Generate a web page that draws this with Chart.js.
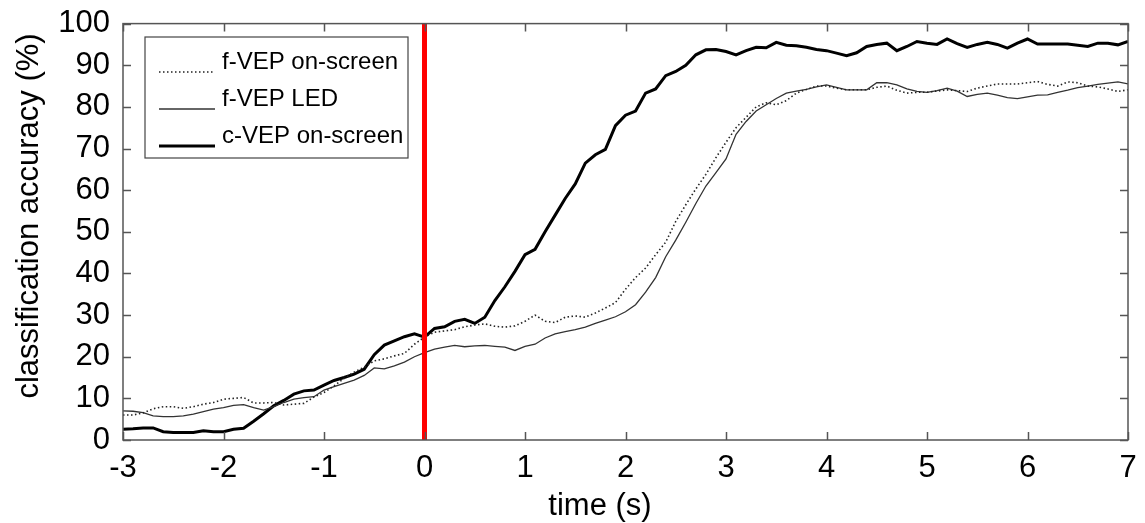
<!DOCTYPE html>
<html>
<head>
<meta charset="utf-8">
<script src="https://cdn.jsdelivr.net/npm/chart.js@4/dist/chart.umd.min.js"></script>
<style>
html, body { margin: 0; padding: 0; background: #fff; }
#wrap { width: 1145px; height: 523px; position: relative; }
</style>
</head>
<body>
<div id="wrap"><canvas id="chart"></canvas></div>
<script>
// time axis, sampled every 0.1 s from -3 to 7
var times = [];
for (var i = 0; i <= 100; i++) times.push(Math.round((-3 + i / 10) * 10) / 10);

var seriesNames = ["f-VEP on-screen", "f-VEP LED", "c-VEP on-screen"];
var xTitle = "time (s)";
var yTitle = "classification accuracy (%)";

// f-VEP on-screen (dotted)
var fvepScreen = [
	6.0, 6.0, 6.5, 7.5, 8.0, 8.0, 7.6, 8.0, 8.6, 9.0,
	9.8, 10.0, 10.2, 8.9, 8.9, 9.0, 8.4, 8.6, 8.8, 10.3,
	11.4, 13.0, 14.8, 16.3, 17.5, 19.0, 19.5, 20.2, 20.8, 23.0,
	24.7, 25.9, 26.2, 26.5, 27.2, 27.6, 27.9, 27.3, 27.1, 27.4,
	28.5, 30.0, 28.5, 28.2, 29.5, 29.8, 29.5, 30.5, 31.7, 33.0,
	36.2, 39.0, 41.3, 44.5, 47.5, 52.5, 56.5, 60.3, 63.8, 67.8,
	71.5, 75.0, 77.5, 80.0, 81.0, 80.5, 81.5, 83.3, 84.2, 85.0,
	85.0, 84.5, 84.1, 84.1, 84.1, 84.7, 85.0, 84.0, 83.3, 83.5,
	83.5, 83.8, 84.1, 83.9, 83.7, 84.5, 85.0, 85.5, 85.5, 85.5,
	85.8, 86.1, 85.4, 85.0, 86.0, 85.8, 85.0, 84.8, 84.3, 83.7,
	84.1
];
// f-VEP LED (thin solid)
var fvepLed = [
	7.0, 6.9, 6.6, 5.8, 5.6, 5.6, 5.8, 6.2, 6.8, 7.4,
	7.8, 8.3, 8.5, 7.8, 7.2, 8.0, 9.0, 9.8, 10.2, 10.4,
	12.0, 12.8, 13.6, 14.4, 15.5, 17.3, 17.1, 17.8, 18.7, 20.0,
	21.0, 21.8, 22.3, 22.7, 22.4, 22.6, 22.7, 22.5, 22.3, 21.5,
	22.5, 23.0, 24.5, 25.5, 26.0, 26.5, 27.1, 28.0, 28.8, 29.6,
	30.8, 32.5, 35.5, 39.0, 44.0, 48.0, 52.3, 56.8, 61.0, 64.2,
	67.5, 73.4, 76.5, 79.0, 80.5, 82.0, 83.3, 83.8, 84.2, 84.8,
	85.3, 84.7, 84.1, 84.1, 84.1, 85.8, 85.8, 85.3, 84.3, 83.7,
	83.5, 83.9, 84.5, 83.8, 82.5, 83.0, 83.3, 82.8, 82.2, 82.0,
	82.4, 82.8, 82.9, 83.5, 84.0, 84.6, 85.0, 85.4, 85.7, 86.0,
	85.5
];
// c-VEP on-screen (thick)
var cvepScreen = [
	2.6, 2.7, 2.9, 2.9, 2.0, 1.8, 1.8, 1.8, 2.2, 2.0,
	2.0, 2.6, 2.8, 4.5, 6.3, 8.2, 9.5, 11.0, 11.8, 12.0,
	13.2, 14.3, 15.0, 15.8, 17.0, 20.5, 22.8, 23.8, 24.8, 25.5,
	24.7, 26.8, 27.2, 28.5, 29.0, 28.0, 29.5, 33.5, 36.8, 40.5,
	44.5, 45.8, 50.0, 54.0, 58.0, 61.5, 66.5, 68.5, 69.8, 75.5,
	78.0, 79.0, 83.3, 84.3, 87.5, 88.5, 90.0, 92.5, 93.7, 93.8,
	93.3, 92.5, 93.5, 94.3, 94.2, 95.5, 94.8, 94.7, 94.3, 93.8,
	93.5, 92.9, 92.3, 93.0, 94.5, 95.0, 95.3, 93.5, 94.5, 95.7,
	95.3, 95.0, 96.3, 95.2, 94.3, 95.0, 95.5, 95.0, 94.1, 95.3,
	96.3, 95.1, 95.1, 95.1, 95.1, 94.8, 94.5, 95.3, 95.3, 94.9,
	95.7
];
var onsetTime = [0, 0];
var onsetLimits = [0, 100];

var xTicks = [-3, -2, -1, 0, 1, 2, 3, 4, 5, 6, 7];
var yTicks = [0, 10, 20, 30, 40, 50, 60, 70, 80, 90, 100];

function toPoints(xs, ys) {
	var pts = [];
	for (var i = 0; i < xs.length; i++) pts.push({x: xs[i], y: ys[i]});
	return pts;
}

var FONT = "'Liberation Sans', Arial, sans-serif";
var AXIS_COLOR = "#555";

// inward ticks, box, axis titles and legend, MATLAB style
var matlabAxes = {
	id: "matlabAxes",
	afterDraw: function(chart) {
		var c = chart.ctx, a = chart.chartArea;
		var sx = chart.scales.x, sy = chart.scales.y;
		var len = 8;
		c.save();
		c.strokeStyle = AXIS_COLOR;
		c.lineWidth = 1.5;
		c.setLineDash([]);
		c.beginPath();
		xTicks.forEach(function(v) {
			var px = Math.round(sx.getPixelForValue(v)) + 0.5;
			c.moveTo(px, a.bottom); c.lineTo(px, a.bottom - len);
			c.moveTo(px, a.top); c.lineTo(px, a.top + len);
		});
		yTicks.forEach(function(v) {
			var py = Math.round(sy.getPixelForValue(v)) + 0.5;
			c.moveTo(a.left, py); c.lineTo(a.left + len, py);
			c.moveTo(a.right, py); c.lineTo(a.right - len, py);
		});
		c.stroke();
		c.strokeRect(a.left, a.top, a.right - a.left, a.bottom - a.top);

		// axis titles
		c.fillStyle = "#000";
		c.font = "31px " + FONT;
		c.textAlign = "center";
		c.textBaseline = "middle";
		c.fillText(xTitle, 600, 506);
		c.save();
		c.translate(29, 216);
		c.rotate(-Math.PI / 2);
		c.fillText(yTitle, 0, 0);
		c.restore();

		// legend
		var lx = 145, ly = 37, lw = 263, lh = 121;
		c.fillStyle = "#fff";
		c.fillRect(lx, ly, lw, lh);
		c.strokeStyle = "#444";
		c.lineWidth = 1.2;
		c.strokeRect(lx, ly, lw, lh);
		var rows = [62, 99, 136];
		var ds = chart.data.datasets;
		c.font = "24px " + FONT;
		c.textBaseline = "middle";
		c.textAlign = "left";
		for (var i = 0; i < seriesNames.length; i++) {
			var d = ds[i + 1];
			c.strokeStyle = d.borderColor;
			c.lineWidth = d.borderWidth;
			c.setLineDash(d.borderDash || []);
			c.beginPath();
			c.moveTo(159, rows[i] + 10);
			c.lineTo(215, rows[i] + 10);
			c.stroke();
			c.fillStyle = "#000";
			c.fillText(seriesNames[i], 222, rows[i]);
		}
		c.restore();
	}
};

new Chart(document.getElementById("chart"), {
	type: "line",
	data: {
		datasets: [{
			label: "onset",
			data: toPoints(onsetTime, onsetLimits),
			borderColor: "#ff0000",
			borderWidth: 5,
			pointRadius: 0
		}, {
			label: seriesNames[0],
			data: toPoints(times, fvepScreen),
			borderColor: "#222",
			borderWidth: 1.6,
			borderDash: [1.5, 2.5],
			pointRadius: 0
		}, {
			label: seriesNames[1],
			data: toPoints(times, fvepLed),
			borderColor: "#333",
			borderWidth: 1.3,
			pointRadius: 0
		}, {
			label: seriesNames[2],
			data: toPoints(times, cvepScreen),
			borderColor: "#000",
			borderWidth: 3,
			pointRadius: 0
		}]
	},
	options: {
		responsive: true,
		maintainAspectRatio: false,
		animation: false,
		layout: { padding: { top: 22, right: 17, left: 0, bottom: 0 } },
		plugins: { legend: { display: false }, tooltip: { enabled: false } },
		scales: {
			x: {
				type: "linear",
				min: -3, max: 7,
				afterFit: function(s) { s.height = 83; },
				afterBuildTicks: function(s) { s.ticks = xTicks.map(function(v) { return {value: v}; }); },
				grid: { display: false },
				border: { display: false },
				ticks: { color: "#000", font: { size: 31, family: FONT }, padding: 2, maxRotation: 0 }
			},
			y: {
				min: 0, max: 100,
				afterFit: function(s) { s.width = 123; },
				afterBuildTicks: function(s) { s.ticks = yTicks.map(function(v) { return {value: v}; }); },
				grid: { display: false },
				border: { display: false },
				ticks: { color: "#000", font: { size: 31, family: FONT }, padding: 5 }
			}
		}
	},
	plugins: [matlabAxes]
});
</script>
</body>
</html>
